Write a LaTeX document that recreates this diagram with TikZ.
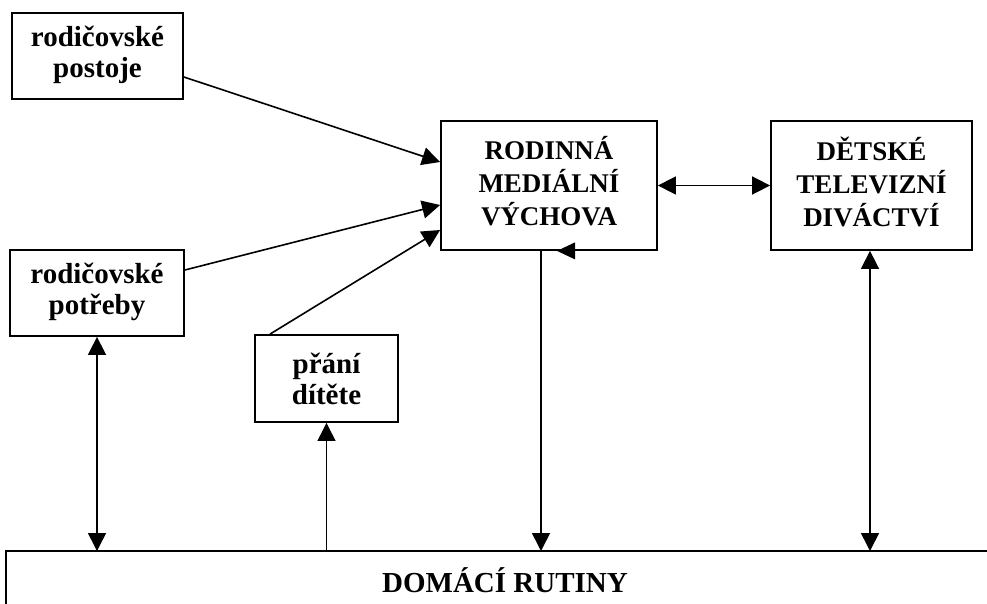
\documentclass[tikz,border=0pt]{standalone}
\usepackage{fontspec}
\setmainfont{Liberation Serif}
\usetikzlibrary{arrows.meta}
\begin{document}
\begin{tikzpicture}[x=1pt,y=-1pt,
  box/.style={draw,line width=1.8pt,inner sep=0pt},
  lower/.style={align=center,inner sep=0pt,font=\bfseries\fontsize{29}{31}\selectfont},
  upper/.style={align=center,inner sep=0pt,font=\bfseries\fontsize{27}{33}\selectfont},
  link/.style={line width=1.6pt},
  thinlink/.style={line width=1pt},
  tip/.style={-{Triangle[length=18pt,width=18pt]}},
  bitip/.style={{Triangle[length=18pt,width=18pt]}-{Triangle[length=18pt,width=18pt]}}]
\useasboundingbox (0,0) rectangle (987,604);

% boxes
\node[box,minimum width=171pt,minimum height=86pt] (postoje) at (97.5,56) {};
\node[box,minimum width=174pt,minimum height=86pt] (potreby) at (97,293) {};
\node[box,minimum width=143pt,minimum height=87pt] (prani) at (326.5,378.5) {};
\node[box,minimum width=216pt,minimum height=129pt] (rodinna) at (549,185.5) {};
\node[box,minimum width=201pt,minimum height=129pt] (detske) at (871.5,185.5) {};

% box texts
\node[lower] (postojeT) at ([yshift=1pt]postoje.center) {rodičovské\\postoje};
\node[lower] (potrebyT) at ([yshift=1pt]potreby.center) {rodičovské\\potřeby};
\node[lower] (praniT) at (prani.center) {přání\\dítěte};
\node[upper] (rodinnaT) at ([yshift=4pt]rodinna.center) {RODINNÁ\\MEDIÁLNÍ\\VÝCHOVA};
\node[upper] (detskeT) at ([yshift=4pt]detske.center) {DĚTSKÉ\\TELEVIZNÍ\\DIVÁCTVÍ};

% open box along the bottom edge
\coordinate (rt) at (0,551);
\draw[line width=1.8pt] (6,610) -- (6,551) -- (992,551);
\node[font=\bfseries\fontsize{29}{34}\selectfont] (domaci) at (505,580) {DOMÁCÍ RUTINY};

% influences on family media education
\draw[link,tip] ([yshift=-21pt]postoje.east) -- ([yshift=23.5pt]rodinna.west);
\draw[link,tip] ([yshift=23pt]potreby.east) -- ([yshift=-19.5pt]rodinna.west);
\draw[link,tip] ([xshift=-56.5pt]prani.north) -- ([yshift=-44.5pt]rodinna.west);
\draw[link,bitip] (rodinna.east) -- (detske.west);

% links with the household routines
\draw[link,bitip] (potreby.south) -- (potreby.south |- rt);
\draw[thinlink,tip] (prani.south |- rt) -- (prani.south);
\draw[link,tip] ([xshift=-8pt]rodinna.south) -- ([xshift=-8pt]rodinna.south |- rt);
\draw[link,bitip] ([xshift=-1.5pt]detske.south) -- ([xshift=-1.5pt]detske.south |- rt);

% loose arrowhead on the lower edge of the education box
\fill ([xshift=8pt]rodinna.south) -- ++(18,-8.5) -- ++(0,17) -- cycle;
\end{tikzpicture}
\end{document}
